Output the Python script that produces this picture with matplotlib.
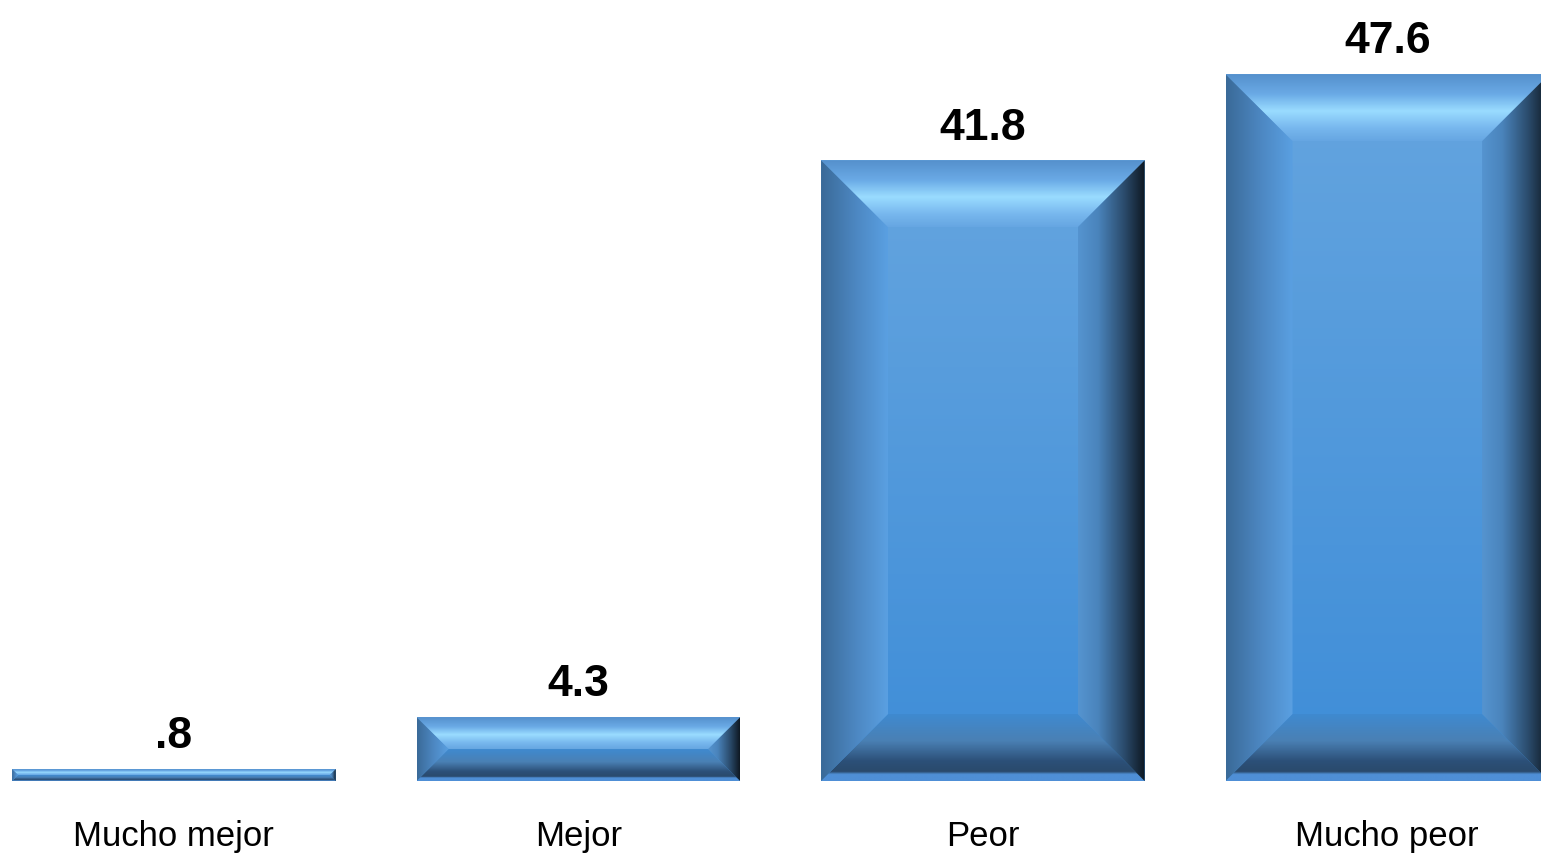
import numpy as np
import matplotlib
matplotlib.use("Agg")
import matplotlib.pyplot as plt
from matplotlib import font_manager
from matplotlib.colors import LinearSegmentedColormap
from matplotlib.patches import Polygon

categories = ["Mucho mejor", "Mejor", "Peor", "Mucho peor"]
values = [0.8, 4.3, 41.8, 47.6]
value_labels = [".8", "4.3", "41.8", "47.6"]

names = {f.name for f in font_manager.fontManager.ttflist}
FONT = "Liberation Sans Narrow" if "Liberation Sans Narrow" in names else "Liberation Sans"

# colour ramps for the bevel look (t=0 outer edge -> t=1 inner edge)
body_cmap = LinearSegmentedColormap.from_list("body", ["#3e8dd8", "#65a5df"])
top_cmap = LinearSegmentedColormap.from_list(
    "top", [(0, "#5590cc"), (0.3, "#6aaae6"), (0.55, "#9adcff"), (0.8, "#78b8ee"), (1, "#66a6e2")])
bottom_cmap = LinearSegmentedColormap.from_list(
    "bottom", [(0, "#4f8fd6"), (0.1, "#4f8fd6"), (0.14, "#2a4a6c"), (0.3, "#2c5078"),
               (0.6, "#4a80b4"), (1, "#3f8ad0")])
left_cmap = LinearSegmentedColormap.from_list(
    "left", [(0, "#3a6a98"), (0.5, "#4c86c0"), (1, "#5aa0e2")])
right_cmap = LinearSegmentedColormap.from_list(
    "right", [(0, "#0e1822"), (0.3, "#2a4a6a"), (0.7, "#4a84bc"), (1, "#5594d0")])

fig = plt.figure(figsize=(15.41, 8.56), dpi=100)
ax = fig.add_axes([0, 75 / 856, 1, 781 / 856])

x = np.arange(len(categories))
width = 0.8
bars = ax.bar(x, values, width=width, color="#4f94d8", zorder=1)
ax.set_xlim(-0.430, 3.380)
ax.set_ylim(0, 52.6)

# pixels per data unit
bb = ax.get_window_extent()
px_x = bb.width / (ax.get_xlim()[1] - ax.get_xlim()[0])
px_y = bb.height / (ax.get_ylim()[1] - ax.get_ylim()[0])


def grad_fill(poly_xy, extent, cmap, vertical, reverse):
    t = np.linspace(0, 1, 256)
    if reverse:
        t = t[::-1]
    arr = t[:, None] if vertical else t[None, :]
    im = ax.imshow(arr, cmap=cmap, extent=extent, origin="lower", aspect="auto",
                   interpolation="bilinear", vmin=0, vmax=1, zorder=2)
    clip = Polygon(poly_xy, closed=True, transform=ax.transData, facecolor="none", edgecolor="none")
    ax.add_patch(clip)
    im.set_clip_path(clip)


for rect in bars:
    x0, y0 = rect.get_x(), rect.get_y()
    w, h = rect.get_width(), rect.get_height()
    x1, y1 = x0 + w, y0 + h
    d_px = min(67, h * px_y / 2)
    dx, dy = d_px / px_x, d_px / px_y
    # body
    grad_fill([(x0, y0), (x1, y0), (x1, y1), (x0, y1)], (x0, x1, y0, y1), body_cmap, True, False)
    # top bevel (outer edge at top)
    grad_fill([(x0, y1), (x1, y1), (x1 - dx, y1 - dy), (x0 + dx, y1 - dy)],
              (x0, x1, y1 - dy, y1), top_cmap, True, True)
    # bottom bevel (outer edge at bottom)
    grad_fill([(x0, y0), (x1, y0), (x1 - dx, y0 + dy), (x0 + dx, y0 + dy)],
              (x0, x1, y0, y0 + dy), bottom_cmap, True, False)
    # left bevel
    grad_fill([(x0, y0), (x0 + dx, y0 + dy), (x0 + dx, y1 - dy), (x0, y1)],
              (x0, x0 + dx, y0, y1), left_cmap, False, False)
    # right bevel
    grad_fill([(x1, y0), (x1 - dx, y0 + dy), (x1 - dx, y1 - dy), (x1, y1)],
              (x1 - dx, x1, y0, y1), right_cmap, False, True)

ax.set_xlim(-0.430, 3.380)
ax.set_ylim(0, 52.6)

for xi, v, lab in zip(x, values, value_labels):
    ax.annotate(lab, (xi, v), xytext=(0, 15), textcoords="offset points",
                ha="center", va="baseline", fontsize=32, fontweight="bold",
                family=FONT, color="black")

ax.set_xticks(x)
ax.set_xticklabels(categories, fontsize=25, family=FONT)
ax.tick_params(axis="x", length=0, pad=28)
ax.set_yticks([])
for s in ax.spines.values():
    s.set_visible(False)

fig.savefig("out.png", dpi=100)
